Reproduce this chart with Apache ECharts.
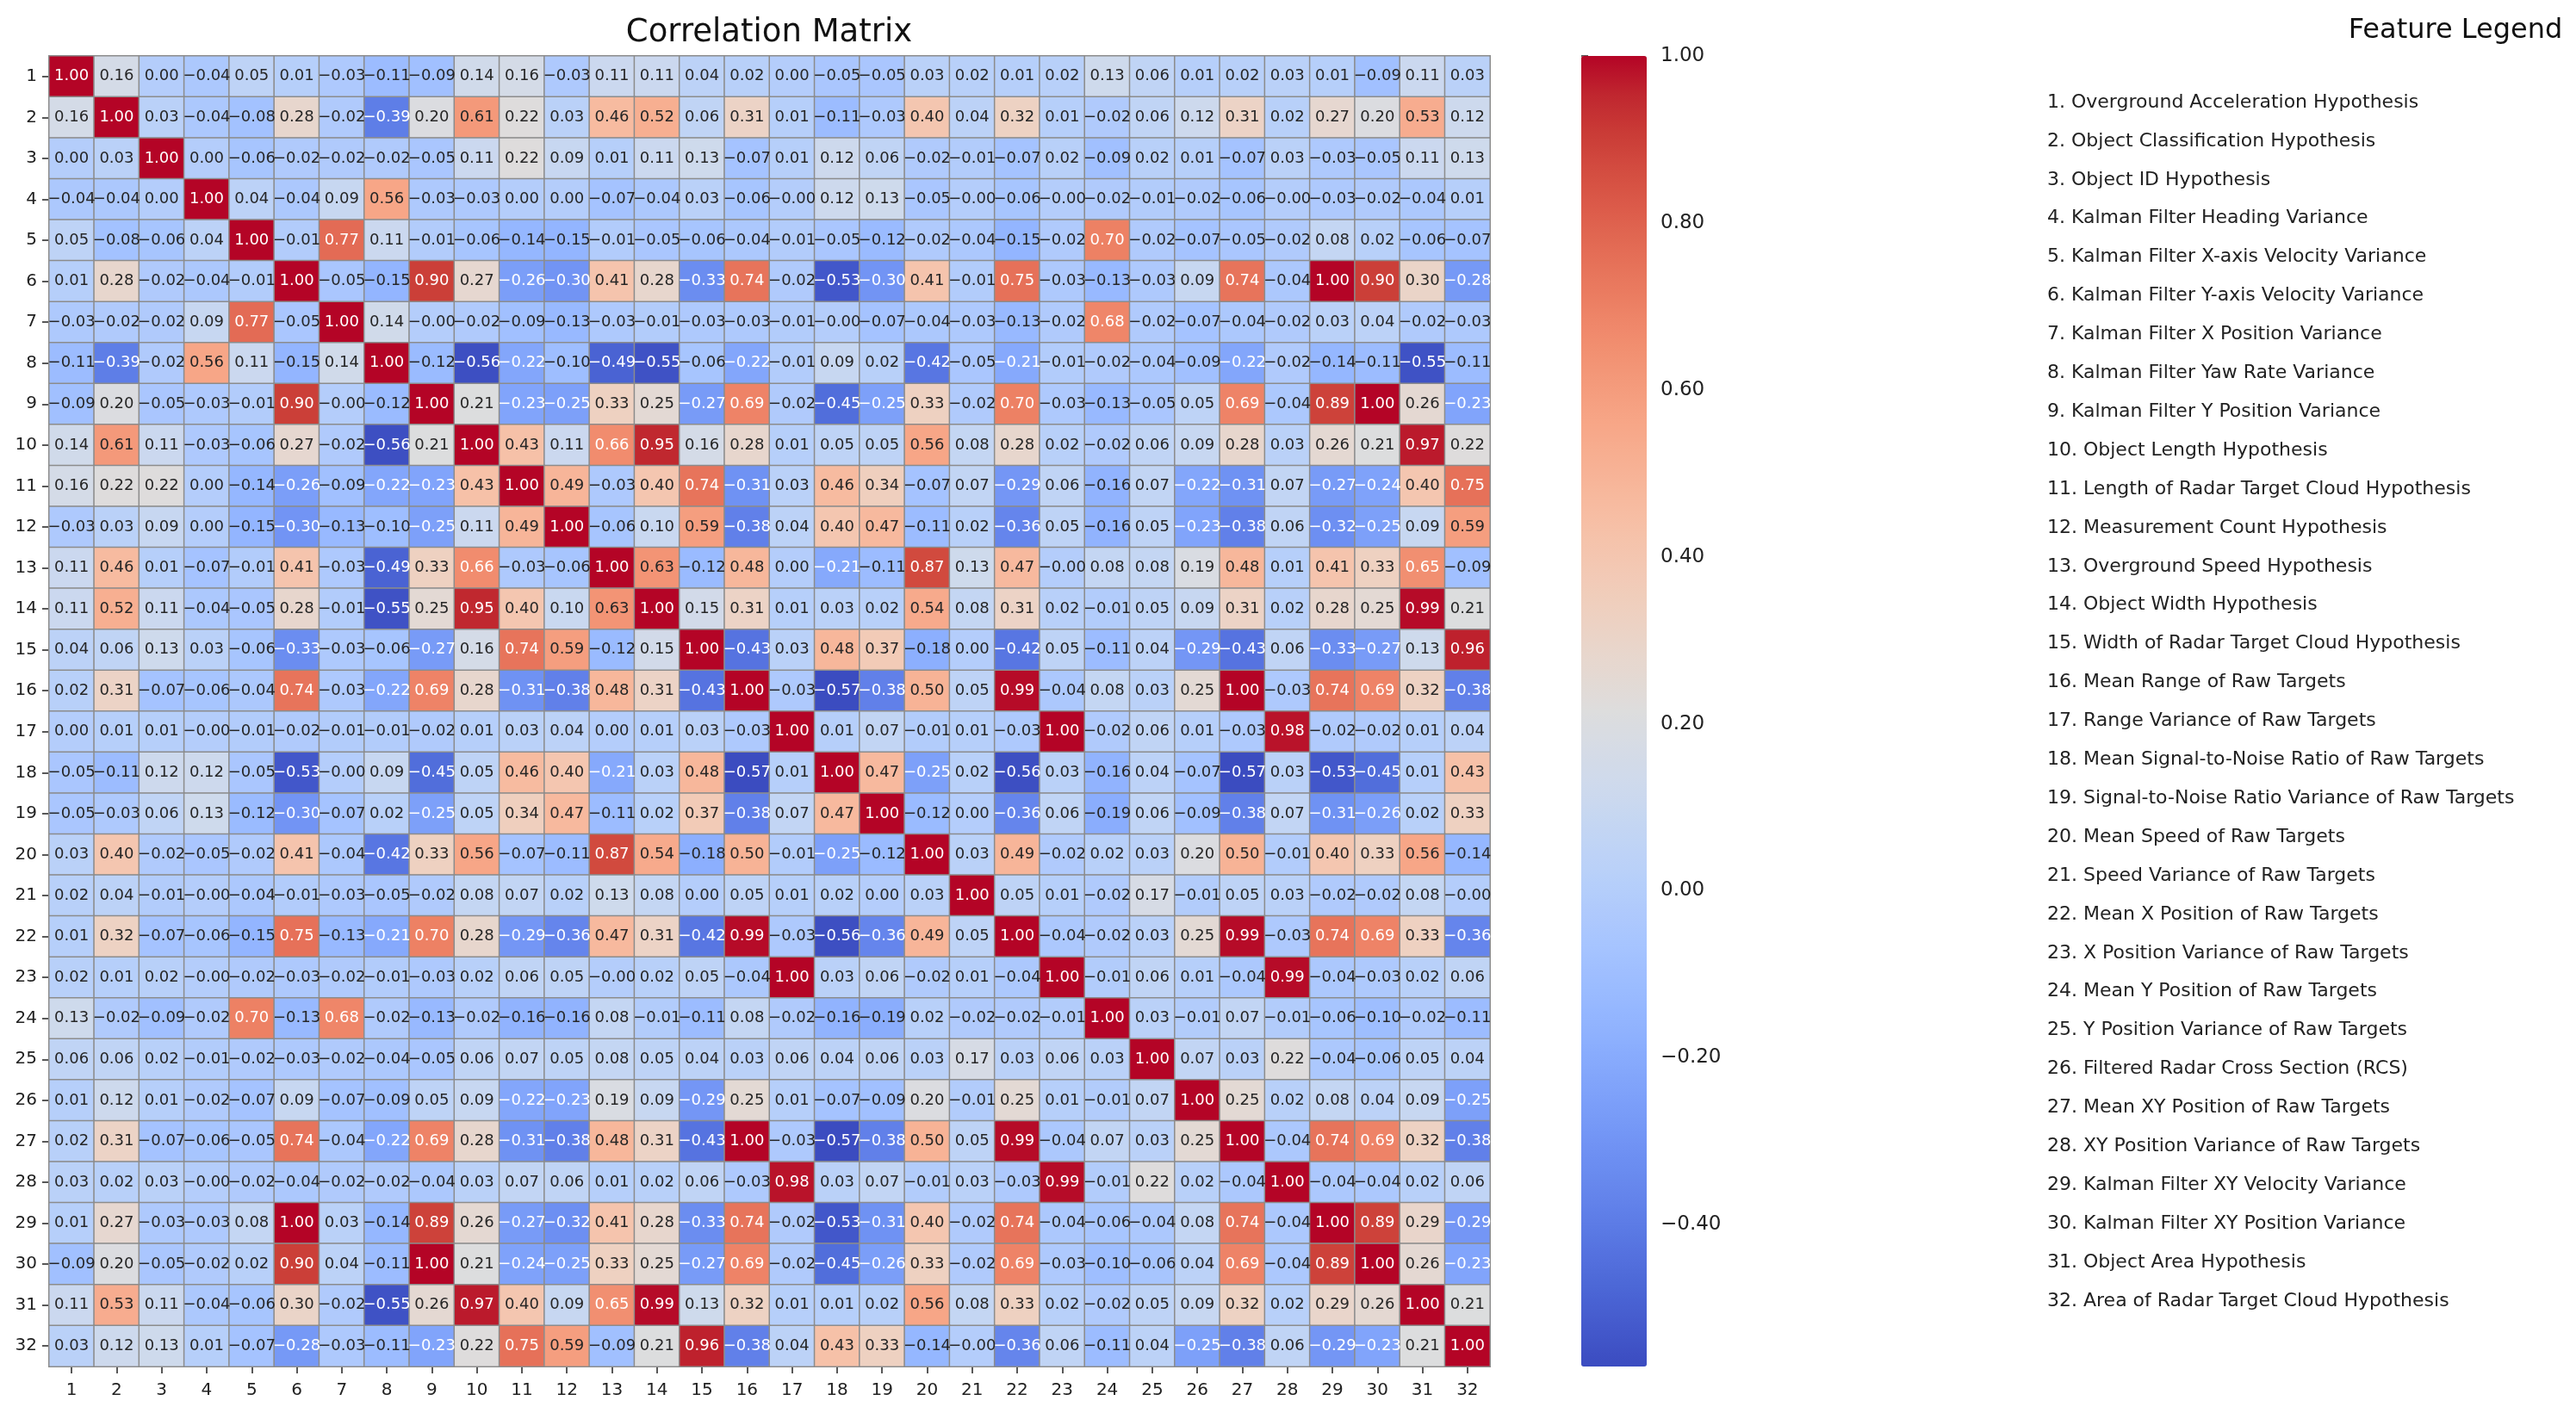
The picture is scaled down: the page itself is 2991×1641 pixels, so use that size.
<!DOCTYPE html>
<html>
<head>
<meta charset="utf-8">
<script src="https://cdn.jsdelivr.net/npm/echarts@6/dist/echarts.min.js"></script>
<style>
html,body{margin:0;padding:0;background:#fff;}
#chart{width:2991px;height:1641px;}
</style>
</head>
<body>
<div id="chart"></div>
<script>
// ---- tick labels / categories ----
const featureIds = ['1','2','3','4','5','6','7','8','9','10','11','12','13','14','15','16',
  '17','18','19','20','21','22','23','24','25','26','27','28','29','30','31','32'];

const featureNames = [
  'Overground Acceleration Hypothesis',
  'Object Classification Hypothesis',
  'Object ID Hypothesis',
  'Kalman Filter Heading Variance',
  'Kalman Filter X-axis Velocity Variance',
  'Kalman Filter Y-axis Velocity Variance',
  'Kalman Filter X Position Variance',
  'Kalman Filter Yaw Rate Variance',
  'Kalman Filter Y Position Variance',
  'Object Length Hypothesis',
  'Length of Radar Target Cloud Hypothesis',
  'Measurement Count Hypothesis',
  'Overground Speed Hypothesis',
  'Object Width Hypothesis',
  'Width of Radar Target Cloud Hypothesis',
  'Mean Range of Raw Targets',
  'Range Variance of Raw Targets',
  'Mean Signal-to-Noise Ratio of Raw Targets',
  'Signal-to-Noise Ratio Variance of Raw Targets',
  'Mean Speed of Raw Targets',
  'Speed Variance of Raw Targets',
  'Mean X Position of Raw Targets',
  'X Position Variance of Raw Targets',
  'Mean Y Position of Raw Targets',
  'Y Position Variance of Raw Targets',
  'Filtered Radar Cross Section (RCS)',
  'Mean XY Position of Raw Targets',
  'XY Position Variance of Raw Targets',
  'Kalman Filter XY Velocity Variance',
  'Kalman Filter XY Position Variance',
  'Object Area Hypothesis',
  'Area of Radar Target Cloud Hypothesis'
];

const colorbarTicks = [-0.4, -0.2, 0.0, 0.2, 0.4, 0.6, 0.8, 1.0];
const colorMin = -0.57;
const colorMax = 1.00;

// ---- correlation values, one row per feature ----
const row01 = [1.00,0.16,0.00,-0.04,0.05,0.01,-0.03,-0.11,-0.09,0.14,0.16,-0.03,0.11,0.11,0.04,0.02,0.00,-0.05,-0.05,0.03,0.02,0.01,0.02,0.13,0.06,0.01,0.02,0.03,0.01,-0.09,0.11,0.03];
const row02 = [0.16,1.00,0.03,-0.04,-0.08,0.28,-0.02,-0.39,0.20,0.61,0.22,0.03,0.46,0.52,0.06,0.31,0.01,-0.11,-0.03,0.40,0.04,0.32,0.01,-0.02,0.06,0.12,0.31,0.02,0.27,0.20,0.53,0.12];
const row03 = [0.00,0.03,1.00,0.00,-0.06,-0.02,-0.02,-0.02,-0.05,0.11,0.22,0.09,0.01,0.11,0.13,-0.07,0.01,0.12,0.06,-0.02,-0.01,-0.07,0.02,-0.09,0.02,0.01,-0.07,0.03,-0.03,-0.05,0.11,0.13];
const row04 = [-0.04,-0.04,0.00,1.00,0.04,-0.04,0.09,0.56,-0.03,-0.03,0.00,0.00,-0.07,-0.04,0.03,-0.06,-0.003,0.12,0.13,-0.05,-0.003,-0.06,-0.003,-0.02,-0.01,-0.02,-0.06,-0.003,-0.03,-0.02,-0.04,0.01];
const row05 = [0.05,-0.08,-0.06,0.04,1.00,-0.01,0.77,0.11,-0.01,-0.06,-0.14,-0.15,-0.01,-0.05,-0.06,-0.04,-0.01,-0.05,-0.12,-0.02,-0.04,-0.15,-0.02,0.70,-0.02,-0.07,-0.05,-0.02,0.08,0.02,-0.06,-0.07];
const row06 = [0.01,0.28,-0.02,-0.04,-0.01,1.00,-0.05,-0.15,0.90,0.27,-0.26,-0.30,0.41,0.28,-0.33,0.74,-0.02,-0.53,-0.30,0.41,-0.01,0.75,-0.03,-0.13,-0.03,0.09,0.74,-0.04,1.00,0.90,0.30,-0.28];
const row07 = [-0.03,-0.02,-0.02,0.09,0.77,-0.05,1.00,0.14,-0.003,-0.02,-0.09,-0.13,-0.03,-0.01,-0.03,-0.03,-0.01,-0.003,-0.07,-0.04,-0.03,-0.13,-0.02,0.68,-0.02,-0.07,-0.04,-0.02,0.03,0.04,-0.02,-0.03];
const row08 = [-0.11,-0.39,-0.02,0.56,0.11,-0.15,0.14,1.00,-0.12,-0.56,-0.22,-0.10,-0.49,-0.55,-0.06,-0.22,-0.01,0.09,0.02,-0.42,-0.05,-0.21,-0.01,-0.02,-0.04,-0.09,-0.22,-0.02,-0.14,-0.11,-0.55,-0.11];
const row09 = [-0.09,0.20,-0.05,-0.03,-0.01,0.90,-0.003,-0.12,1.00,0.21,-0.23,-0.25,0.33,0.25,-0.27,0.69,-0.02,-0.45,-0.25,0.33,-0.02,0.70,-0.03,-0.13,-0.05,0.05,0.69,-0.04,0.89,1.00,0.26,-0.23];
const row10 = [0.14,0.61,0.11,-0.03,-0.06,0.27,-0.02,-0.56,0.21,1.00,0.43,0.11,0.66,0.95,0.16,0.28,0.01,0.05,0.05,0.56,0.08,0.28,0.02,-0.02,0.06,0.09,0.28,0.03,0.26,0.21,0.97,0.22];
const row11 = [0.16,0.22,0.22,0.00,-0.14,-0.26,-0.09,-0.22,-0.23,0.43,1.00,0.49,-0.03,0.40,0.74,-0.31,0.03,0.46,0.34,-0.07,0.07,-0.29,0.06,-0.16,0.07,-0.22,-0.31,0.07,-0.27,-0.24,0.40,0.75];
const row12 = [-0.03,0.03,0.09,0.00,-0.15,-0.30,-0.13,-0.10,-0.25,0.11,0.49,1.00,-0.06,0.10,0.59,-0.38,0.04,0.40,0.47,-0.11,0.02,-0.36,0.05,-0.16,0.05,-0.23,-0.38,0.06,-0.32,-0.25,0.09,0.59];
const row13 = [0.11,0.46,0.01,-0.07,-0.01,0.41,-0.03,-0.49,0.33,0.66,-0.03,-0.06,1.00,0.63,-0.12,0.48,0.00,-0.21,-0.11,0.87,0.13,0.47,-0.003,0.08,0.08,0.19,0.48,0.01,0.41,0.33,0.65,-0.09];
const row14 = [0.11,0.52,0.11,-0.04,-0.05,0.28,-0.01,-0.55,0.25,0.95,0.40,0.10,0.63,1.00,0.15,0.31,0.01,0.03,0.02,0.54,0.08,0.31,0.02,-0.01,0.05,0.09,0.31,0.02,0.28,0.25,0.99,0.21];
const row15 = [0.04,0.06,0.13,0.03,-0.06,-0.33,-0.03,-0.06,-0.27,0.16,0.74,0.59,-0.12,0.15,1.00,-0.43,0.03,0.48,0.37,-0.18,0.00,-0.42,0.05,-0.11,0.04,-0.29,-0.43,0.06,-0.33,-0.27,0.13,0.96];
const row16 = [0.02,0.31,-0.07,-0.06,-0.04,0.74,-0.03,-0.22,0.69,0.28,-0.31,-0.38,0.48,0.31,-0.43,1.00,-0.03,-0.57,-0.38,0.50,0.05,0.99,-0.04,0.08,0.03,0.25,1.00,-0.03,0.74,0.69,0.32,-0.38];
const row17 = [0.00,0.01,0.01,-0.003,-0.01,-0.02,-0.01,-0.01,-0.02,0.01,0.03,0.04,0.00,0.01,0.03,-0.03,1.00,0.01,0.07,-0.01,0.01,-0.03,1.00,-0.02,0.06,0.01,-0.03,0.98,-0.02,-0.02,0.01,0.04];
const row18 = [-0.05,-0.11,0.12,0.12,-0.05,-0.53,-0.003,0.09,-0.45,0.05,0.46,0.40,-0.21,0.03,0.48,-0.57,0.01,1.00,0.47,-0.25,0.02,-0.56,0.03,-0.16,0.04,-0.07,-0.57,0.03,-0.53,-0.45,0.01,0.43];
const row19 = [-0.05,-0.03,0.06,0.13,-0.12,-0.30,-0.07,0.02,-0.25,0.05,0.34,0.47,-0.11,0.02,0.37,-0.38,0.07,0.47,1.00,-0.12,0.00,-0.36,0.06,-0.19,0.06,-0.09,-0.38,0.07,-0.31,-0.26,0.02,0.33];
const row20 = [0.03,0.40,-0.02,-0.05,-0.02,0.41,-0.04,-0.42,0.33,0.56,-0.07,-0.11,0.87,0.54,-0.18,0.50,-0.01,-0.25,-0.12,1.00,0.03,0.49,-0.02,0.02,0.03,0.20,0.50,-0.01,0.40,0.33,0.56,-0.14];
const row21 = [0.02,0.04,-0.01,-0.003,-0.04,-0.01,-0.03,-0.05,-0.02,0.08,0.07,0.02,0.13,0.08,0.00,0.05,0.01,0.02,0.00,0.03,1.00,0.05,0.01,-0.02,0.17,-0.01,0.05,0.03,-0.02,-0.02,0.08,-0.003];
const row22 = [0.01,0.32,-0.07,-0.06,-0.15,0.75,-0.13,-0.21,0.70,0.28,-0.29,-0.36,0.47,0.31,-0.42,0.99,-0.03,-0.56,-0.36,0.49,0.05,1.00,-0.04,-0.02,0.03,0.25,0.99,-0.03,0.74,0.69,0.33,-0.36];
const row23 = [0.02,0.01,0.02,-0.003,-0.02,-0.03,-0.02,-0.01,-0.03,0.02,0.06,0.05,-0.003,0.02,0.05,-0.04,1.00,0.03,0.06,-0.02,0.01,-0.04,1.00,-0.01,0.06,0.01,-0.04,0.99,-0.04,-0.03,0.02,0.06];
const row24 = [0.13,-0.02,-0.09,-0.02,0.70,-0.13,0.68,-0.02,-0.13,-0.02,-0.16,-0.16,0.08,-0.01,-0.11,0.08,-0.02,-0.16,-0.19,0.02,-0.02,-0.02,-0.01,1.00,0.03,-0.01,0.07,-0.01,-0.06,-0.10,-0.02,-0.11];
const row25 = [0.06,0.06,0.02,-0.01,-0.02,-0.03,-0.02,-0.04,-0.05,0.06,0.07,0.05,0.08,0.05,0.04,0.03,0.06,0.04,0.06,0.03,0.17,0.03,0.06,0.03,1.00,0.07,0.03,0.22,-0.04,-0.06,0.05,0.04];
const row26 = [0.01,0.12,0.01,-0.02,-0.07,0.09,-0.07,-0.09,0.05,0.09,-0.22,-0.23,0.19,0.09,-0.29,0.25,0.01,-0.07,-0.09,0.20,-0.01,0.25,0.01,-0.01,0.07,1.00,0.25,0.02,0.08,0.04,0.09,-0.25];
const row27 = [0.02,0.31,-0.07,-0.06,-0.05,0.74,-0.04,-0.22,0.69,0.28,-0.31,-0.38,0.48,0.31,-0.43,1.00,-0.03,-0.57,-0.38,0.50,0.05,0.99,-0.04,0.07,0.03,0.25,1.00,-0.04,0.74,0.69,0.32,-0.38];
const row28 = [0.03,0.02,0.03,-0.003,-0.02,-0.04,-0.02,-0.02,-0.04,0.03,0.07,0.06,0.01,0.02,0.06,-0.03,0.98,0.03,0.07,-0.01,0.03,-0.03,0.99,-0.01,0.22,0.02,-0.04,1.00,-0.04,-0.04,0.02,0.06];
const row29 = [0.01,0.27,-0.03,-0.03,0.08,1.00,0.03,-0.14,0.89,0.26,-0.27,-0.32,0.41,0.28,-0.33,0.74,-0.02,-0.53,-0.31,0.40,-0.02,0.74,-0.04,-0.06,-0.04,0.08,0.74,-0.04,1.00,0.89,0.29,-0.29];
const row30 = [-0.09,0.20,-0.05,-0.02,0.02,0.90,0.04,-0.11,1.00,0.21,-0.24,-0.25,0.33,0.25,-0.27,0.69,-0.02,-0.45,-0.26,0.33,-0.02,0.69,-0.03,-0.10,-0.06,0.04,0.69,-0.04,0.89,1.00,0.26,-0.23];
const row31 = [0.11,0.53,0.11,-0.04,-0.06,0.30,-0.02,-0.55,0.26,0.97,0.40,0.09,0.65,0.99,0.13,0.32,0.01,0.01,0.02,0.56,0.08,0.33,0.02,-0.02,0.05,0.09,0.32,0.02,0.29,0.26,1.00,0.21];
const row32 = [0.03,0.12,0.13,0.01,-0.07,-0.28,-0.03,-0.11,-0.23,0.22,0.75,0.59,-0.09,0.21,0.96,-0.38,0.04,0.43,0.33,-0.14,-0.003,-0.36,0.06,-0.11,0.04,-0.25,-0.38,0.06,-0.29,-0.23,0.21,1.00];

const matrixRows = [row01,row02,row03,row04,row05,row06,row07,row08,row09,row10,row11,row12,row13,row14,row15,row16,
  row17,row18,row19,row20,row21,row22,row23,row24,row25,row26,row27,row28,row29,row30,row31,row32];

// ---- coolwarm colormap (33 evenly spaced stops) ----
const coolwarm = [
  [59,76,192],[68,90,204],[77,104,215],[87,117,225],[98,130,234],[108,142,241],[119,154,247],[130,165,251],
  [141,176,254],[152,185,255],[163,194,255],[174,201,253],[184,208,249],[194,213,244],[204,217,238],[213,219,230],
  [221,221,221],[229,216,209],[236,211,197],[241,204,185],[245,196,173],[247,187,160],[247,177,148],[247,166,135],
  [244,154,123],[241,141,111],[236,127,99],[229,112,88],[222,96,77],[213,80,66],[203,62,56],[192,40,47],[180,4,38]
];
const coolwarmCss = coolwarm.map(c => `rgb(${c[0]},${c[1]},${c[2]})`);

function cmap(v) {
  let t = (v - colorMin) / (colorMax - colorMin);
  t = Math.max(0, Math.min(1, t));
  const pos = t * (coolwarm.length - 1);
  const i = Math.min(coolwarm.length - 2, Math.floor(pos));
  const f = pos - i;
  return [0,1,2].map(k => coolwarm[i][k] + (coolwarm[i+1][k] - coolwarm[i][k]) * f);
}
function textColorFor(v) {
  const lin = cmap(v).map(c => { c = c / 255; return c <= 0.03928 ? c / 12.92 : Math.pow((c + 0.055) / 1.055, 2.4); });
  const lum = 0.2126 * lin[0] + 0.7152 * lin[1] + 0.0722 * lin[2];
  return lum > 0.408 ? '#262626' : '#ffffff';
}
function fmt(v) {
  return v < 0 ? '\u2212' + (-v).toFixed(2) : v.toFixed(2);
}

const heatData = [];
matrixRows.forEach((row, r) => {
  row.forEach((v, c) => {
    heatData.push({ value: [c, r, v], label: { color: textColorFor(v) } });
  });
});

const FONT = 'DejaVu Sans';
const gridLeft = 57, gridTop = 65, gridW = 1673, gridH = 1522;

const legendGraphics = featureNames.map((name, i) => ({
  type: 'text',
  x: 2377,
  y: 119 + i * 44.9,
  silent: true,
  style: {
    text: (i + 1) + '. ' + name,
    font: '22px "DejaVu Sans"',
    fill: '#222',
    align: 'left',
    verticalAlign: 'middle'
  }
}));

const chart = echarts.init(document.getElementById('chart'), null, { renderer: 'canvas' });
chart.setOption({
  animation: false,
  backgroundColor: '#ffffff',
  title: [
    { text: 'Correlation Matrix', left: 893, top: 20, textAlign: 'center', padding: 0,
      textStyle: { fontFamily: FONT, fontSize: 37, fontWeight: 'normal', color: '#111' } },
    { text: 'Feature Legend', left: 2851, top: 20, textAlign: 'center', padding: 0,
      textStyle: { fontFamily: FONT, fontSize: 32, fontWeight: 'normal', color: '#111' } }
  ],
  grid: [
    { left: gridLeft, top: gridTop, width: gridW, height: gridH, containLabel: false },
    { left: 1836, top: gridTop, width: 76, height: gridH, containLabel: false }
  ],
  xAxis: [
    { type: 'category', gridIndex: 0, data: featureIds, position: 'bottom',
      axisLine: { show: false },
      axisTick: { show: true, alignWithLabel: true, length: 8, lineStyle: { color: '#222', width: 1.5 } },
      axisLabel: { interval: 0, margin: 18, fontFamily: FONT, fontSize: 20, color: '#222' },
      splitLine: { show: false } },
    { type: 'value', gridIndex: 1, min: 0, max: 1, show: false }
  ],
  yAxis: [
    { type: 'category', gridIndex: 0, data: featureIds, inverse: true, position: 'left',
      axisLine: { show: false },
      axisTick: { show: true, alignWithLabel: true, length: 8, lineStyle: { color: '#222', width: 1.5 } },
      axisLabel: { interval: 0, margin: 14, fontFamily: FONT, fontSize: 20, color: '#222' },
      splitLine: { show: false } },
    { type: 'value', gridIndex: 1, min: colorMin, max: colorMax, position: 'right',
      axisLine: { show: false }, splitLine: { show: false },
      axisTick: { show: true, length: 8, customValues: colorbarTicks, lineStyle: { color: '#222', width: 1.5 } },
      axisLabel: { customValues: colorbarTicks, margin: 16, fontFamily: FONT, fontSize: 23, color: '#222',
        formatter: v => fmt(v) } }
  ],
  visualMap: {
    type: 'continuous',
    min: colorMin, max: colorMax,
    seriesIndex: 0,
    dimension: 2,
    show: true,
    calculable: false,
    hoverLink: false,
    text: null,
    left: 1836, top: gridTop,
    itemWidth: 76, itemHeight: gridH,
    padding: 0,
    inRange: { color: coolwarmCss }
  },
  series: [
    {
      type: 'heatmap',
      xAxisIndex: 0, yAxisIndex: 0,
      data: heatData,
      itemStyle: { borderColor: '#8c8c8c', borderWidth: 1.5 },
      label: { show: true, fontFamily: FONT, fontSize: 18, formatter: p => fmt(p.value[2]) },
      emphasis: { disabled: true }
    },
    { type: 'scatter', xAxisIndex: 1, yAxisIndex: 1, data: [], silent: true }
  ],
  graphic: legendGraphics
});
</script>
</body>
</html>
